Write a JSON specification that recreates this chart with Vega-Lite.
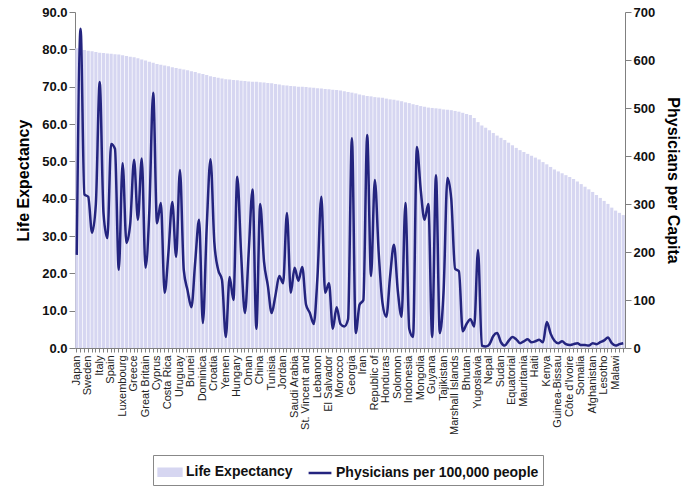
{
 "$schema": "https://vega.github.io/schema/vega-lite/v6.json",
 "width": 550,
 "height": 336,
 "autosize": {"type": "none"},
 "padding": {"left": 75, "top": 12, "right": 61, "bottom": 139},
 "config": {
  "view": {"stroke": null},
  "font": "Liberation Sans",
  "axis": {"grid": false, "domainColor": "#808080", "tickColor": "#808080", "labelColor": "#111", "titleColor": "#000"}
 },
 "data": {"values": [
  {"country": "Japan", "le": 80.3, "phys": 194},
  {"country": "Australia", "le": 80.0, "phys": 665},
  {"country": "Switzerland", "le": 79.8, "phys": 320},
  {"country": "Sweden", "le": 79.6, "phys": 315},
  {"country": "Iceland", "le": 79.5, "phys": 240},
  {"country": "Canada", "le": 79.3, "phys": 300},
  {"country": "Italy", "le": 79.1, "phys": 554},
  {"country": "France", "le": 79.0, "phys": 281},
  {"country": "Monaco", "le": 78.9, "phys": 229},
  {"country": "Spain", "le": 78.8, "phys": 425},
  {"country": "Norway", "le": 78.7, "phys": 415},
  {"country": "Israel", "le": 78.6, "phys": 163},
  {"country": "Luxembourg", "le": 78.4, "phys": 385},
  {"country": "Netherlands", "le": 78.2, "phys": 219},
  {"country": "Austria", "le": 78.0, "phys": 260},
  {"country": "Greece", "le": 77.9, "phys": 392},
  {"country": "Belgium", "le": 77.6, "phys": 267},
  {"country": "Germany", "le": 77.3, "phys": 395},
  {"country": "Great Britain", "le": 77.0, "phys": 167},
  {"country": "Finland", "le": 76.7, "phys": 287},
  {"country": "New Zealand", "le": 76.4, "phys": 532},
  {"country": "Cyprus", "le": 76.1, "phys": 260},
  {"country": "Malta", "le": 75.9, "phys": 302},
  {"country": "Singapore", "le": 75.7, "phys": 115},
  {"country": "Costa Rica", "le": 75.5, "phys": 200},
  {"country": "Chile", "le": 75.2, "phys": 304},
  {"country": "Portugal", "le": 75.0, "phys": 190},
  {"country": "Uruguay", "le": 74.8, "phys": 371},
  {"country": "Kuwait", "le": 74.6, "phys": 163},
  {"country": "United Arab Emirates", "le": 74.4, "phys": 120},
  {"country": "Brunei", "le": 74.1, "phys": 85},
  {"country": "Cuba", "le": 73.9, "phys": 180},
  {"country": "Barbados", "le": 73.6, "phys": 267},
  {"country": "Dominica", "le": 73.4, "phys": 52},
  {"country": "Slovenia", "le": 73.1, "phys": 250},
  {"country": "Czech Republic", "le": 72.8, "phys": 393},
  {"country": "Croatia", "le": 72.6, "phys": 220},
  {"country": "Argentina", "le": 72.4, "phys": 163},
  {"country": "Slovakia", "le": 72.2, "phys": 142},
  {"country": "Yemen", "le": 72.0, "phys": 23},
  {"country": "Panama", "le": 71.9, "phys": 148},
  {"country": "Poland", "le": 71.8, "phys": 100},
  {"country": "Hungary", "le": 71.7, "phys": 357},
  {"country": "Bahrain", "le": 71.6, "phys": 198},
  {"country": "Qatar", "le": 71.5, "phys": 73},
  {"country": "Oman", "le": 71.4, "phys": 200},
  {"country": "Mexico", "le": 71.3, "phys": 330},
  {"country": "Venezuela", "le": 71.3, "phys": 40},
  {"country": "China", "le": 71.2, "phys": 300},
  {"country": "Sri Lanka", "le": 71.1, "phys": 180},
  {"country": "Jamaica", "le": 71.0, "phys": 130},
  {"country": "Tunisia", "le": 70.9, "phys": 73},
  {"country": "Malaysia", "le": 70.7, "phys": 110},
  {"country": "Bulgaria", "le": 70.6, "phys": 150},
  {"country": "Jordan", "le": 70.4, "phys": 135},
  {"country": "Colombia", "le": 70.3, "phys": 281},
  {"country": "Syria", "le": 70.2, "phys": 115},
  {"country": "Saudi Arabia", "le": 70.1, "phys": 167},
  {"country": "Thailand", "le": 70.0, "phys": 140},
  {"country": "Ecuador", "le": 70.0, "phys": 169},
  {"country": "St. Vincent and", "le": 69.9, "phys": 90},
  {"country": "Romania", "le": 69.8, "phys": 73},
  {"country": "Albania", "le": 69.7, "phys": 50},
  {"country": "Lebanon", "le": 69.6, "phys": 150},
  {"country": "Paraguay", "le": 69.5, "phys": 315},
  {"country": "Armenia", "le": 69.4, "phys": 115},
  {"country": "El Salvador", "le": 69.3, "phys": 135},
  {"country": "Lithuania", "le": 69.2, "phys": 40},
  {"country": "Belarus", "le": 69.1, "phys": 85},
  {"country": "Morocco", "le": 69.0, "phys": 50},
  {"country": "Algeria", "le": 68.8, "phys": 45},
  {"country": "Estonia", "le": 68.6, "phys": 60},
  {"country": "Georgia", "le": 68.4, "phys": 437},
  {"country": "Ukraine", "le": 68.2, "phys": 31},
  {"country": "Vietnam", "le": 67.9, "phys": 90},
  {"country": "Iran", "le": 67.7, "phys": 100},
  {"country": "Philippines", "le": 67.5, "phys": 444},
  {"country": "Latvia", "le": 67.4, "phys": 150},
  {"country": "Republic of", "le": 67.2, "phys": 350},
  {"country": "Egypt", "le": 67.1, "phys": 200},
  {"country": "Kazakhstan", "le": 67.0, "phys": 94},
  {"country": "Honduras", "le": 66.8, "phys": 65},
  {"country": "Turkey", "le": 66.6, "phys": 150},
  {"country": "Nicaragua", "le": 66.5, "phys": 215},
  {"country": "Solomon", "le": 66.3, "phys": 120},
  {"country": "Azerbaijan", "le": 66.1, "phys": 65},
  {"country": "Brazil", "le": 65.8, "phys": 302},
  {"country": "Indonesia", "le": 65.6, "phys": 40},
  {"country": "Kyrgyzstan", "le": 65.3, "phys": 23},
  {"country": "Uzbekistan", "le": 65.1, "phys": 419},
  {"country": "Mongolia", "le": 64.8, "phys": 330},
  {"country": "Guatemala", "le": 64.6, "phys": 267},
  {"country": "Russia", "le": 64.4, "phys": 300},
  {"country": "Guyana", "le": 64.3, "phys": 23},
  {"country": "Turkmenistan", "le": 64.2, "phys": 360},
  {"country": "Bolivia", "le": 64.1, "phys": 31},
  {"country": "Tajikistan", "le": 63.9, "phys": 120},
  {"country": "Pakistan", "le": 63.8, "phys": 354},
  {"country": "India", "le": 63.7, "phys": 310},
  {"country": "Marshall Islands", "le": 63.5, "phys": 165},
  {"country": "Bangladesh", "le": 63.3, "phys": 160},
  {"country": "Iraq", "le": 63.0, "phys": 35},
  {"country": "Bhutan", "le": 62.7, "phys": 50},
  {"country": "North Korea", "le": 62.4, "phys": 60},
  {"country": "Myanmar", "le": 61.6, "phys": 45},
  {"country": "Yugoslavia", "le": 60.5, "phys": 204},
  {"country": "Laos", "le": 59.6, "phys": 5},
  {"country": "Cambodia", "le": 59.0, "phys": 3},
  {"country": "Nepal", "le": 58.3, "phys": 8},
  {"country": "Papua New Guinea", "le": 57.6, "phys": 25},
  {"country": "Gambia", "le": 56.9, "phys": 31},
  {"country": "Sudan", "le": 56.3, "phys": 12},
  {"country": "Ghana", "le": 55.7, "phys": 5},
  {"country": "Senegal", "le": 55.0, "phys": 15},
  {"country": "Equatorial", "le": 54.3, "phys": 23},
  {"country": "Gabon", "le": 53.6, "phys": 18},
  {"country": "Togo", "le": 53.0, "phys": 10},
  {"country": "Mauritania", "le": 52.5, "phys": 14},
  {"country": "Madagascar", "le": 52.0, "phys": 18},
  {"country": "Benin", "le": 51.5, "phys": 12},
  {"country": "Haiti", "le": 51.0, "phys": 14},
  {"country": "Eritrea", "le": 50.5, "phys": 17},
  {"country": "Cameroon", "le": 49.8, "phys": 12},
  {"country": "Kenya", "le": 49.2, "phys": 54},
  {"country": "Nigeria", "le": 48.5, "phys": 30},
  {"country": "Guinea", "le": 47.8, "phys": 15},
  {"country": "Guinea-Bissau", "le": 47.3, "phys": 10},
  {"country": "Congo", "le": 46.8, "phys": 14},
  {"country": "Tanzania", "le": 46.3, "phys": 8},
  {"country": "Côte d'Ivoire", "le": 45.8, "phys": 6},
  {"country": "Chad", "le": 45.3, "phys": 8},
  {"country": "Burkina Faso", "le": 44.6, "phys": 10},
  {"country": "Somalia", "le": 43.9, "phys": 6},
  {"country": "Angola", "le": 43.2, "phys": 6},
  {"country": "Uganda", "le": 42.5, "phys": 5},
  {"country": "Afghanistan", "le": 41.8, "phys": 10},
  {"country": "Mozambique", "le": 41.0, "phys": 8},
  {"country": "Ethiopia", "le": 40.2, "phys": 12},
  {"country": "Lesotho", "le": 39.4, "phys": 16},
  {"country": "Niger", "le": 38.6, "phys": 22},
  {"country": "Rwanda", "le": 37.6, "phys": 10},
  {"country": "Malawi", "le": 36.8, "phys": 5},
  {"country": "Zambia", "le": 36.2, "phys": 8},
  {"country": "Sierra Leone", "le": 35.6, "phys": 10}
 ]},
 "encoding": {
  "x": {
   "field": "country", "type": "nominal", "sort": null,
   "scale": {"paddingInner": 0.18, "paddingOuter": 0.05},
   "axis": {
    "title": null, "labelAngle": -90, "labelFontSize": 11, "labelOverlap": false, "labelPadding": 3,
    "tickSize": 4, "labelColor": "#222",
    "labelExpr": "indexof(['Japan','Sweden','Italy','Spain','Luxembourg','Greece','Great Britain','Cyprus','Costa Rica','Uruguay','Brunei','Dominica','Croatia','Yemen','Hungary','Oman','China','Tunisia','Jordan','Saudi Arabia','St. Vincent and','Lebanon','El Salvador','Morocco','Georgia','Iran','Republic of','Honduras','Solomon','Indonesia','Mongolia','Guyana','Tajikistan','Marshall Islands','Bhutan','Yugoslavia','Nepal','Sudan','Equatorial','Mauritania','Haiti','Kenya','Guinea-Bissau','Côte d\\'Ivoire','Somalia','Afghanistan','Lesotho','Malawi'], datum.value) >= 0 ? datum.label : ''"
   }
  }
 },
 "layer": [
  {
   "mark": {"type": "bar"},
   "encoding": {
    "y": {"field": "le", "type": "quantitative", "scale": {"domain": [0, 90]},
     "axis": {"title": "Life Expectancy", "format": ".1f", "values": [0,10,20,30,40,50,60,70,80,90], "labelFontSize": 13, "labelFontWeight": "bold", "titleFontSize": 16, "titleFontWeight": "bold", "tickSize": 6, "titlePadding": 10}},
    "color": {"datum": "Life Expectancy", "type": "nominal",
     "scale": {"domain": ["Life Expectancy", "Physicians per 100,000 people"], "range": ["#d6d6f1", "#24247f"]},
     "legend": {
      "title": null, "orient": "none", "legendX": 78, "legendY": 443, "direction": "horizontal",
      "strokeColor": "#888", "padding": 4, "columnPadding": 10, "labelLimit": 400, "labelOffset": 3,
      "labelFontSize": 14, "labelFontWeight": "bold", "labelColor": "#111", "symbolSize": 520,
      "encode": {"symbols": {"update": {
       "shape": {"signal": "datum.value === 'Life Expectancy' ? 'M-1,-0.3H1V0.3H-1Z' : 'M-1,0H1'"},
       "fill": {"signal": "datum.value === 'Life Expectancy' ? '#d6d6f1' : 'transparent'"},
       "stroke": {"signal": "datum.value === 'Life Expectancy' ? 'transparent' : '#24247f'"},
       "strokeWidth": {"value": 2.5},
       "opacity": {"value": 1}
      }}}
     }}
   }
  },
  {
   "mark": {"type": "line", "strokeWidth": 2.5, "interpolate": "monotone"},
   "encoding": {
    "y": {"field": "phys", "type": "quantitative", "scale": {"domain": [0, 700]},
     "axis": {"orient": "right", "title": "Physicians per Capita", "values": [0,100,200,300,400,500,600,700], "labelFontSize": 13, "labelFontWeight": "bold", "titleFontSize": 16, "titleFontWeight": "bold", "tickSize": 6, "titlePadding": 10}},
    "color": {"datum": "Physicians per 100,000 people", "type": "nominal"}
   }
  }
 ],
 "resolve": {"scale": {"y": "independent"}}
}
